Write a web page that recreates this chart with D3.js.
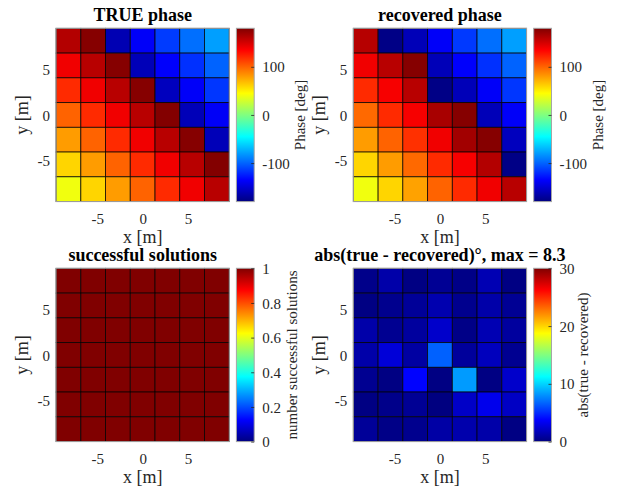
<!DOCTYPE html>
<html>
<head>
<meta charset="utf-8">
<script src="https://cdn.jsdelivr.net/npm/d3@7/dist/d3.min.js"></script>
<style>
  html, body { margin: 0; padding: 0; background: #fff; }
  svg { display: block; }
  text { font-family: "Liberation Serif", "Times New Roman", "DejaVu Serif", serif; }
</style>
</head>
<body>
<svg id="fig" width="622" height="491"></svg>
<script>
// Grid cell centres (metres), columns left to right and rows top to bottom
const xCenters = [-8.18, -5.45, -2.73, 0, 2.73, 5.45, 8.18];
const yCenters = [8.18, 5.45, 2.73, 0, -2.73, -5.45, -8.18];
const cellSize = 2.727;
const axisExtent = [-9.55, 9.55];
const axisTicks = [-5, 0, 5];

// True phase per cell (deg)
const truePhase = [
  [162, 178, -162, -137, -114, -96, -79],
  [140, 160, 178, -160, -136, -118, -100],
  [120, 140, 160, 178, -158, -137, -116],
  [100, 120, 140, 160, 179, -160, -138],
  [80, 100, 120, 140, 160, 178, -160],
  [60, 80, 100, 120, 140, 160, 179],
  [40, 60, 80, 100, 120, 140, 160]
];

// Recovered phase per cell (deg)
const recoveredPhase = [
  [161, -178, -160, -137, -115, -96, -79],
  [140, 160, 178, -160, -136, -118, -100],
  [120, 138, 160, -178, -160, -137, -116],
  [98, 120, 138, 166, 178, -160, -137],
  [80, 100, 118, 140, 168, 178, -158],
  [60, 80, 98, 120, 138, 162, -178],
  [40, 60, 78, 100, 120, 140, 160]
];

// Number of successful solutions per cell
const successCount = [
  [1, 1, 1, 1, 1, 1, 1],
  [1, 1, 1, 1, 1, 1, 1],
  [1, 1, 1, 1, 1, 1, 1],
  [1, 1, 1, 1, 1, 1, 1],
  [1, 1, 1, 1, 1, 1, 1],
  [1, 1, 1, 1, 1, 1, 1],
  [1, 1, 1, 1, 1, 1, 1]
];

// Absolute phase error per cell (deg)
const phaseError = [
  [0.3, 1.2, 0.1, 0.6, 0.2, 1.5, 0.1],
  [0.1, 0.4, 0.7, 1.4, 0.4, 1.2, 0.6],
  [1.2, 0.5, 0.9, 2.2, 0.2, 1.5, 0.9],
  [1.2, 2.6, 1.0, 6.6, 0.8, 1.8, 0.5],
  [0.5, 0.1, 3.8, 0.1, 8.3, 0.1, 2.2],
  [0.1, 0.3, 0.6, 0.0, 2.1, 3.2, 2.0],
  [0.7, 0.2, 0.4, 1.1, 1.3, 1.2, 0.1]
];

// Colour bar ranges and ticks
const phaseRange = [-180, 180];
const phaseTicks = [-100, 0, 100];
const successRange = [0, 1];
const successTicks = [0, 0.2, 0.4, 0.6, 0.8, 1];
const errorRange = [0, 30];
const errorTicks = [0, 10, 20, 30];

// Jet colour map as piecewise-linear scale on [0, 1]
const jetStops = [0, 0.125, 0.375, 0.625, 0.875, 1];
const jetColors = ["#000080", "#0000ff", "#00ffff", "#ffff00", "#ff0000", "#800000"];
const jet = d3.scaleLinear().domain(jetStops).range(jetColors).clamp(true);

const svg = d3.select("#fig");
const defs = svg.append("defs");

const SERIF = '"Liberation Serif", "Times New Roman", "DejaVu Serif", serif';
const PW = 173.3, PH = 173.3;     // plot area
const CB_DX = 180.4, CB_W = 17.8; // colour bar offset and width
const TICK_COLOR = "#262626";
const BOX_COLOR = "#a6a6a6";
const plainNumber = d => String(d); // hyphen minus, as in the axis labels

function styleTicks(axisG) {
  axisG.attr("font-family", SERIF);
  axisG.select(".domain").remove();
  axisG.selectAll("text").attr("font-size", 15).attr("fill", TICK_COLOR).attr("font-family", SERIF);
}

function panel(opt) {
  const g = svg.append("g").attr("transform", `translate(${opt.x},${opt.y})`);
  const x = d3.scaleLinear().domain(axisExtent).range([0, PW]);
  const y = d3.scaleLinear().domain(axisExtent).range([PH, 0]);
  const c = d3.scaleLinear().domain(opt.range).range([0, 1]);
  const color = v => jet(c(v));

  const cells = [];
  opt.data.forEach((row, r) => row.forEach((v, k) => cells.push({ r, k, v })));

  g.append("g").selectAll("rect").data(cells).join("rect")
    .attr("x", d => x(xCenters[d.k] - cellSize / 2))
    .attr("y", d => y(yCenters[d.r] + cellSize / 2))
    .attr("width", d => x(xCenters[d.k] + cellSize / 2) - x(xCenters[d.k] - cellSize / 2))
    .attr("height", d => y(yCenters[d.r] - cellSize / 2) - y(yCenters[d.r] + cellSize / 2))
    .attr("fill", d => color(d.v))
    .attr("stroke", "#000")
    .attr("stroke-opacity", 0.8)
    .attr("stroke-width", 0.9);

  g.append("rect").attr("width", PW).attr("height", PH)
    .attr("fill", "none").attr("stroke", BOX_COLOR).attr("stroke-width", 1);

  // x axis
  const xa = g.append("g").attr("transform", `translate(0,${PH})`)
    .call(d3.axisBottom(x).tickValues(axisTicks).tickSize(0).tickPadding(0).tickFormat(plainNumber));
  styleTicks(xa);
  xa.selectAll("text").attr("dy", null).attr("y", 22);

  // y axis
  const ya = g.append("g")
    .call(d3.axisLeft(y).tickValues(axisTicks).tickSize(0).tickPadding(0).tickFormat(plainNumber));
  styleTicks(ya);
  ya.selectAll("text").attr("x", -6).attr("dy", "0.34em");

  g.append("text").attr("x", PW / 2).attr("y", PH + 41)
    .attr("text-anchor", "middle").attr("font-size", 18).attr("fill", TICK_COLOR)
    .text("x [m]");
  g.append("text").attr("transform", `translate(-28,${PH / 2}) rotate(-90)`)
    .attr("text-anchor", "middle").attr("font-size", 18).attr("fill", TICK_COLOR)
    .text("y [m]");

  // title
  g.append("text").attr("x", PW / 2).attr("y", -7.5)
    .attr("text-anchor", "middle").attr("font-size", 18).attr("font-weight", "bold")
    .attr("fill", "#000").text(opt.title);

  // colour bar
  const gid = "grad" + opt.id;
  const grad = defs.append("linearGradient").attr("id", gid)
    .attr("x1", 0).attr("y1", 1).attr("x2", 0).attr("y2", 0);
  d3.range(0, 1.0001, 1 / 64).forEach(t => {
    grad.append("stop").attr("offset", t).attr("stop-color", jet(t));
  });
  const cb = g.append("g").attr("transform", `translate(${CB_DX},0)`);
  cb.append("rect").attr("width", CB_W).attr("height", PH).attr("fill", `url(#${gid})`)
    .attr("stroke", BOX_COLOR).attr("stroke-width", 1);
  const cy = d3.scaleLinear().domain(opt.range).range([PH, 0]);
  const ca = cb.append("g").attr("transform", `translate(${CB_W},0)`)
    .call(d3.axisRight(cy).tickValues(opt.ticks).tickSize(-3).tickPadding(8).tickFormat(plainNumber));
  styleTicks(ca);
  ca.selectAll("line").attr("stroke", TICK_COLOR).attr("stroke-width", 0.8);
  ca.selectAll("text").attr("dy", "0.34em");
  cb.append("text").attr("transform", `translate(${opt.cbLabelX},${PH / 2}) rotate(-90)`)
    .attr("text-anchor", "middle").attr("font-size", 15).attr("fill", TICK_COLOR)
    .text(opt.cbLabel);
}

panel({ id: 1, x: 56, y: 28.3, data: truePhase, range: phaseRange, ticks: phaseTicks,
  title: "TRUE phase", cbLabel: "Phase [deg]", cbLabelX: 69 });
panel({ id: 2, x: 353.3, y: 28.3, data: recoveredPhase, range: phaseRange, ticks: phaseTicks,
  title: "recovered phase", cbLabel: "Phase [deg]", cbLabelX: 69 });
panel({ id: 3, x: 56, y: 268.3, data: successCount, range: successRange, ticks: successTicks,
  title: "successful solutions", cbLabel: "number successful solutions", cbLabelX: 61 });
const maxErr = d3.max(phaseError.flat());
panel({ id: 4, x: 353.3, y: 268.3, data: phaseError, range: errorRange, ticks: errorTicks,
  title: `abs(true - recovered)°, max = ${maxErr.toFixed(1)}`,
  cbLabel: "abs(true - recovered)", cbLabelX: 54 });
</script>
</body>
</html>
